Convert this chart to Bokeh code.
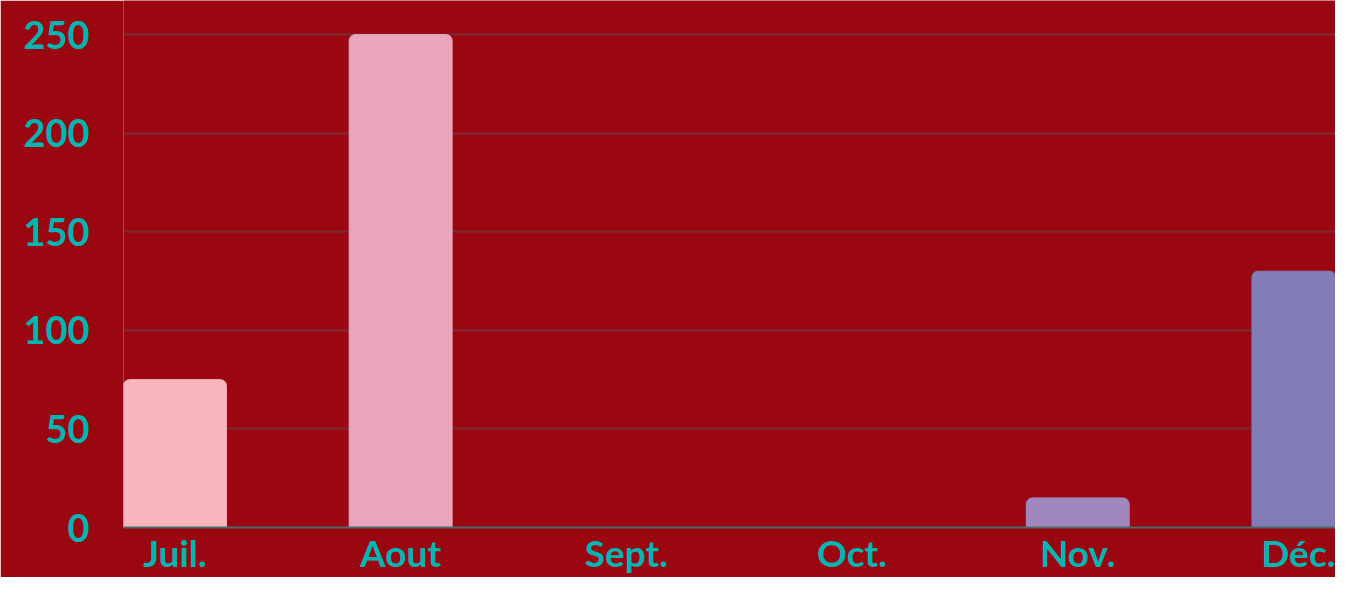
from bokeh.plotting import figure
from bokeh.models import ColumnDataSource, FixedTicker, Range1d
from bokeh.embed import file_html
from bokeh.resources import INLINE

months = ["Juil.", "Aout", "Sept.", "Oct.", "Nov.", "Déc."]
values = [75, 250, 0, 0, 15, 130]
colors = ["#f9b5bd", "#e9a5bd", "#c59abd", "#b091bd", "#a087bd", "#827db9"]
y_ticks = [0, 50, 100, 150, 200, 250]

BG = "#9b0710"
TEAL = "#01b6b2"
FONT = "Lato"

xs = list(range(len(months)))
src = ColumnDataSource(dict(x=xs, top=values, color=colors))

p = figure(width=1335, height=577, output_backend="svg", toolbar_location=None,
           x_range=Range1d(-0.228, 5.142), y_range=Range1d(0, 267.3),
           min_border_left=123, min_border_right=0, min_border_top=0, min_border_bottom=44)
p.background_fill_color = BG
p.border_fill_color = BG
p.outline_line_color = None

p.vbar(x="x", top="top", bottom=0, width=0.456, source=src,
       fill_color="color", line_color="color", border_radius=(6, 6, 0, 0))

p.xgrid.grid_line_color = None
p.ygrid.grid_line_color = "#782d34"
p.ygrid.grid_line_width = 2
p.ygrid.ticker = FixedTicker(ticks=y_ticks)

p.yaxis.ticker = FixedTicker(ticks=y_ticks)
p.yaxis.axis_line_color = None
p.yaxis.major_tick_line_color = None
p.yaxis.minor_tick_line_color = None
p.yaxis.major_tick_out = 0
p.yaxis.major_tick_in = 0
p.yaxis.major_label_standoff = 34
p.yaxis.major_label_text_color = TEAL
p.yaxis.major_label_text_font = FONT
p.yaxis.major_label_text_font_style = "bold"
p.yaxis.major_label_text_font_size = "38px"

p.xaxis.ticker = FixedTicker(ticks=xs)
p.xaxis.major_label_overrides = {i: m for i, m in enumerate(months)}
p.xaxis.axis_line_color = "#4d6a6a"
p.xaxis.axis_line_width = 2
p.xaxis.major_tick_line_color = None
p.xaxis.minor_tick_line_color = None
p.xaxis.major_tick_out = 0
p.xaxis.major_tick_in = 0
p.xaxis.major_label_standoff = 2
p.xaxis.major_label_text_color = TEAL
p.xaxis.major_label_text_font = FONT
p.xaxis.major_label_text_font_style = "bold"
p.xaxis.major_label_text_font_size = "37px"

open("out.html", "w").write(file_html(p, INLINE))
